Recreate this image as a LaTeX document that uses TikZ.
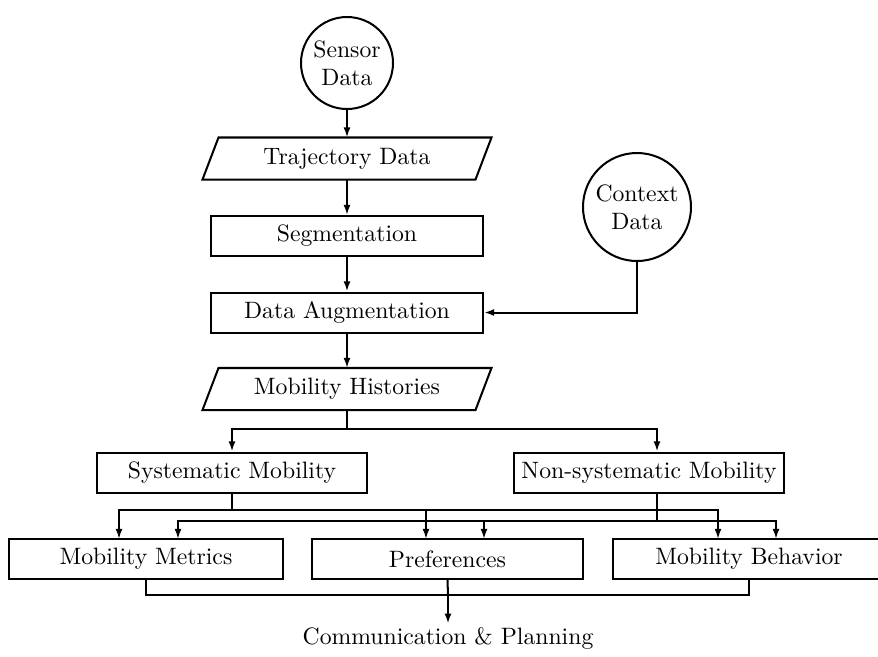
\documentclass[tikz,border=0pt]{standalone}
\usetikzlibrary{arrows.meta,calc}
\begin{document}
\begin{tikzpicture}[x=0.4219pt,y=-0.4219pt,
  line width=0.85pt,
  box/.style={draw, rectangle, minimum width=272*0.4219pt, minimum height=40*0.4219pt, inner sep=0pt},
  iobox/.style={rectangle, minimum width=271*0.4219pt, minimum height=40*0.4219pt, inner sep=0pt},
  src/.style={draw, circle, align=center, inner sep=0pt},
  arr/.style={-{Latex[length=4.3pt,width=3pt]}}
]
\useasboundingbox (0,0) rectangle (878,656);

% data sources
\node[src, minimum size=92*0.4219pt] (sensor) at (347,63) {Sensor\\Data};
\node[src, minimum size=108*0.4219pt] (ctx) at (637,207) {Context\\Data};

% main pipeline
\node[iobox] (traj) at (347,158.5) {Trajectory Data};
\draw ($(traj.north west)+(8,0)$) -- ($(traj.north east)+(8,0)$)
   -- ($(traj.south east)+(-8,0)$) -- ($(traj.south west)+(-8,0)$) -- cycle;
\node[box] (seg) at (347,236) {Segmentation};
\node[box] (aug) at (347,312.5) {Data Augmentation};
\node[iobox] (hist) at (347,389) {Mobility Histories};
\draw ($(hist.north west)+(8,0)$) -- ($(hist.north east)+(8,0)$)
   -- ($(hist.south east)+(-8,0)$) -- ($(hist.south west)+(-8,0)$) -- cycle;

% mobility classes
\node[box, minimum width=270*0.4219pt] (sys) at (232,472.5) {Systematic Mobility};
\node[box, minimum width=270*0.4219pt] (non) at (649,472.5) {Non-systematic Mobility};

% derived knowledge
\node[box, minimum width=274*0.4219pt] (met) at (146,559) {Mobility Metrics};
\node[box, minimum width=271*0.4219pt] (pref) at (447.5,559) {Preferences};
\node[box, minimum width=272*0.4219pt] (beh) at (749,559) {Mobility Behavior};

\node[inner sep=1pt] (comm) at (448,638) {Communication \& Planning};

% junction points
\coordinate (hsplit) at (347,429);
\coordinate (sA) at (232,510);
\coordinate (nA) at (657,521);
\coordinate (mA) at (119,539);
\coordinate (mB) at (178,539);
\coordinate (pA) at (426,539);
\coordinate (pB) at (484,539);
\coordinate (bA) at (718,539);
\coordinate (bB) at (776,539);
\coordinate (cA) at (448,595);

% connectors
\draw[arr] (sensor) -- (traj);
\draw[arr] (traj) -- (seg);
\draw[arr] (seg) -- (aug);
\draw[arr] (aug) -- (hist);
\draw[arr] (ctx.south) |- (aug.east);

\draw (hist.south) -- (hsplit);
\draw[arr] (hsplit) -| (sys.north);
\draw[arr] (hsplit) -| (nA |- non.north);

\draw (sys.south) -- (sA);
\draw[arr] (sA) -| (mA);
\draw[arr] (sA) -| (pA);
\draw[arr] (sA) -| (bA);

\draw (nA |- non.south) -- (nA);
\draw[arr] (nA) -| (mB);
\draw[arr] (nA) -| (pB);
\draw[arr] (nA) -| (bB);

\draw (met.south) |- (cA);
\draw (beh.south) |- (cA);
\draw (pref.south) -- (cA);
\draw[arr] (cA) -- (comm);
\end{tikzpicture}
\end{document}
